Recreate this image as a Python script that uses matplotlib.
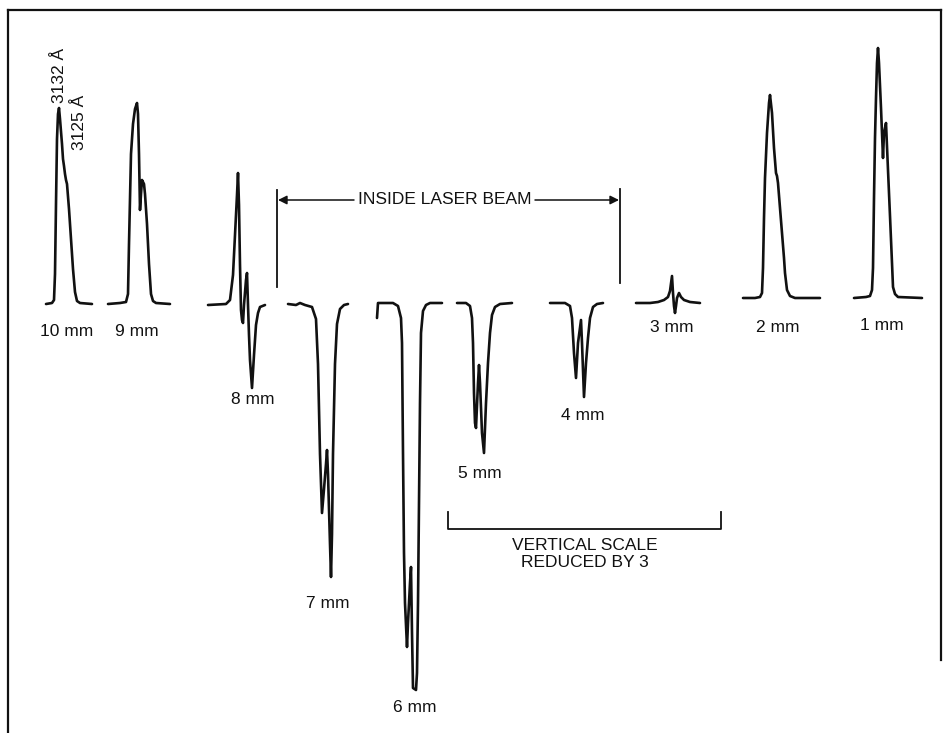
import matplotlib
matplotlib.use("Agg")
import matplotlib.pyplot as plt
import numpy as np

plt.rcParams['font.family'] = ['Liberation Sans', 'DejaVu Sans']

# ---- data: signal traces (sample offset, signal height; positive = emission up) ----
labels = ["10 mm", "9 mm", "8 mm", "7 mm", "6 mm", "5 mm", "4 mm", "3 mm", "2 mm", "1 mm"]

t10_x = [0, 6, 8, 9, 10, 11, 12, 13, 14, 16, 17, 18, 19, 20, 21, 23, 25, 27, 29, 31, 34, 46]
t10_y = [0, 1, 4, 30, 100, 165, 190, 196, 185, 160, 145, 138, 130, 124, 120, 95, 65, 35, 12, 3, 1, 0]

t9_x = [0, 12, 18, 20, 21, 23, 25, 27, 29, 30, 31, 32, 33, 34, 36, 37, 39, 41, 43, 45, 48, 62]
t9_y = [0, 1, 2, 10, 60, 150, 180, 195, 201, 190, 150, 94, 110, 124, 120, 110, 80, 40, 10, 3, 1, 0]

t8_x = [0, 18, 22, 25, 27, 29, 30, 31, 32, 33, 34, 35, 36, 38, 39, 40, 41, 42, 44, 46, 48, 50, 52, 57]
t8_y = [0, 1, 5, 30, 70, 110, 132, 100, 40, -5, -15, -18, 0, 25, 32, 0, -30, -55, -83, -50, -20, -8, -2, 0]

t7_x = [0, 8, 12, 17, 24, 28, 30, 32, 34, 36, 38, 39, 40, 42, 43, 44, 45, 47, 49, 52, 56, 60]
t7_y = [0, -1, 1, -1, -3, -15, -60, -150, -209, -185, -160, -146, -170, -240, -273, -230, -150, -60, -20, -5, -1, 0]

t6_x = [0, 1, 3, 16, 21, 24, 25, 26, 27, 28, 30, 31, 33, 34, 35, 36, 39, 40, 41, 42, 43, 44, 46, 49, 53, 65]
t6_y = [-15, 0, 0, 0, -3, -15, -40, -150, -250, -300, -344, -320, -280, -264, -330, -385, -387, -370, -300, -200, -100, -30, -8, -2, 0, 0]

t5_x = [0, 9, 13, 15, 16, 17, 18, 19, 21, 22, 23, 25, 27, 29, 31, 33, 35, 38, 43, 55]
t5_y = [0, 0, -3, -15, -40, -90, -120, -125, -80, -62, -80, -130, -150, -100, -60, -30, -12, -4, -1, 0]

t4_x = [0, 15, 20, 22, 24, 26, 28, 31, 32, 34, 36, 38, 40, 43, 47, 53]
t4_y = [0, 0, -3, -15, -50, -75, -40, -17, -40, -94, -60, -35, -15, -4, -1, 0]

t3_x = [0, 14, 22, 28, 32, 34, 36, 37, 38, 39, 40, 41, 43, 45, 48, 54, 64]
t3_y = [0, 0, 1, 3, 6, 12, 27, 10, -3, -10, -3, 5, 10, 6, 3, 1, 0]

t2_x = [0, 12, 17, 19, 20, 21, 22, 24, 26, 27, 29, 31, 33, 34, 35, 37, 39, 41, 42, 44, 47, 52, 77]
t2_y = [0, 0, 1, 5, 30, 80, 120, 165, 195, 203, 185, 150, 125, 122, 115, 90, 65, 40, 25, 8, 2, 0, 0]

t1_x = [0, 12, 16, 18, 19, 20, 21, 22, 23, 24, 25, 27, 29, 30, 32, 34, 36, 38, 39, 41, 44, 68]
t1_y = [0, 1, 2, 8, 30, 100, 160, 200, 235, 250, 235, 190, 140, 165, 175, 128, 82, 35, 11, 4, 1, 0]

traces_x = [t10_x, t9_x, t8_x, t7_x, t6_x, t5_x, t4_x, t3_x, t2_x, t1_x]
traces_y = [t10_y, t9_y, t8_y, t7_y, t6_y, t5_y, t4_y, t3_y, t2_y, t1_y]

wavelength_labels = ["3132 Å", "3125 Å"]
beam_label = "INSIDE LASER BEAM"
scale_label = "VERTICAL SCALE\nREDUCED BY 3"

# ---- layout (pixel canvas) ----
W, H = 949, 733
trace_start = [46, 108, 208, 288, 377, 457, 550, 636, 743, 854]
trace_base = [304, 304, 305, 304, 303, 303, 303, 303, 298, 298]
label_pos = [(67, 331), (137, 331), (253, 400), (328, 603), (415, 708),
             (480, 473), (583, 416), (672, 328), (778, 327), (882, 325)]

fig = plt.figure(figsize=(W / 100, H / 100), dpi=100)
ax = fig.add_axes([0, 0, 1, 1])
ax.set_xlim(0, W)
ax.set_ylim(H, 0)
ax.axis('off')

ink = '#111111'
fs = 12.5

for xs, ys, x0, b, lab, lp in zip(traces_x, traces_y, trace_start, trace_base, labels, label_pos):
    xs = np.asarray(xs, float) + x0
    ys = b - np.asarray(ys, float)
    ax.plot(xs, ys, color=ink, lw=1.9, solid_joinstyle='round', solid_capstyle='round')
    ax.text(lp[0], lp[1], lab, ha='center', va='center', fontsize=fs, color=ink)

# wavelength markers (rotated)
ax.text(60, 75, wavelength_labels[0], rotation=90, ha='center', va='center', fontsize=fs, color=ink)
ax.text(80, 122, wavelength_labels[1], rotation=90, ha='center', va='center', fontsize=fs, color=ink)

# inside laser beam indicator
ax.plot([277, 277], [190, 287], color=ink, lw=1.3)
ax.plot([620, 620], [189, 283], color=ink, lw=1.3)
ax.text(445, 199, beam_label, ha='center', va='center', fontsize=fs, color=ink)
ax.annotate('', xy=(278, 200), xytext=(354, 200),
            arrowprops=dict(arrowstyle='-|>', color=ink, lw=1.1, mutation_scale=13,
                            shrinkA=0, shrinkB=0))
ax.annotate('', xy=(619, 200), xytext=(535, 200),
            arrowprops=dict(arrowstyle='-|>', color=ink, lw=1.1, mutation_scale=13,
                            shrinkA=0, shrinkB=0))

# vertical scale bracket
ax.plot([448, 448, 721, 721], [512, 529, 529, 512], color=ink, lw=1.3)
ax.text(585, 554, scale_label, ha='center', va='center', fontsize=fs, color=ink,
        linespacing=1.2)

# frame
ax.plot([8, 8], [H, 10], color=ink, lw=1.6)
ax.plot([8, 941], [10, 10], color=ink, lw=1.6)
ax.plot([941, 941], [10, 660], color=ink, lw=1.6)

fig.savefig('out.png', dpi=100, facecolor='white')
